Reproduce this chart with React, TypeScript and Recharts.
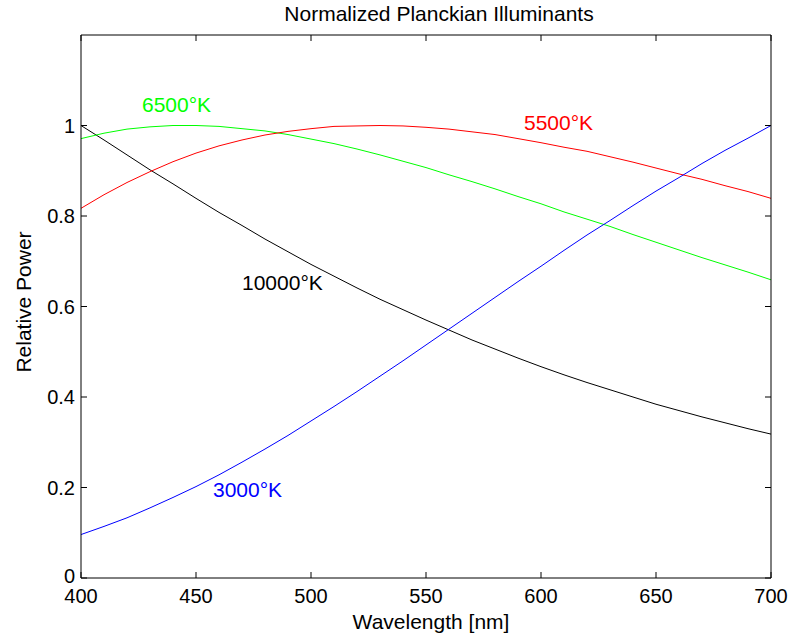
import React from 'react';
import { LineChart, Line, XAxis, YAxis } from 'recharts';

const wavelengths = [400, 410, 420, 430, 440, 450, 460, 470, 480, 490, 500, 510, 520, 530, 540, 550, 560, 570, 580, 590, 600, 610, 620, 630, 640, 650, 660, 670, 680, 690, 700];

const k10000 = [1.0, 0.968, 0.935, 0.902, 0.871, 0.839, 0.808, 0.779, 0.749, 0.721, 0.693, 0.667, 0.641, 0.616, 0.593, 0.570, 0.548, 0.526, 0.506, 0.486, 0.467, 0.449, 0.432, 0.416, 0.400, 0.384, 0.370, 0.356, 0.343, 0.330, 0.318];
const k6500 = [0.971, 0.983, 0.992, 0.997, 1.0, 1.0, 0.998, 0.993, 0.988, 0.980, 0.970, 0.960, 0.948, 0.935, 0.921, 0.907, 0.891, 0.876, 0.860, 0.843, 0.827, 0.809, 0.793, 0.777, 0.759, 0.742, 0.725, 0.708, 0.692, 0.676, 0.659];
const k5500 = [0.817, 0.847, 0.874, 0.898, 0.920, 0.939, 0.955, 0.968, 0.979, 0.987, 0.993, 0.998, 0.999, 1.0, 0.999, 0.996, 0.992, 0.986, 0.980, 0.971, 0.962, 0.952, 0.943, 0.931, 0.919, 0.906, 0.893, 0.881, 0.867, 0.854, 0.839];
const k3000 = [0.096, 0.114, 0.133, 0.155, 0.178, 0.202, 0.228, 0.256, 0.285, 0.315, 0.347, 0.379, 0.412, 0.446, 0.480, 0.515, 0.550, 0.585, 0.620, 0.655, 0.689, 0.724, 0.758, 0.790, 0.823, 0.855, 0.885, 0.916, 0.945, 0.972, 1.0];

const xTicks = [400, 450, 500, 550, 600, 650, 700];
const yTicks = [0, 0.2, 0.4, 0.6, 0.8, 1];

const titleText = 'Normalized Planckian Illuminants';
const xLabelText = 'Wavelength [nm]';
const yLabelText = 'Relative Power';

const data = wavelengths.map((wl, i) => ({
  wl,
  t10000: k10000[i],
  t6500: k6500[i],
  t5500: k5500[i],
  t3000: k3000[i],
}));

const FONT = '"Liberation Sans", Arial, Helvetica, sans-serif';
const FS = 20;
const LFS = 21;
const TICK = 6;

const BottomTick = (props: any) => {
  const { x, y, payload } = props;
  return (
    <g>
      <line x1={x} y1={y} x2={x} y2={y - TICK} stroke="#000" strokeWidth={1} />
      <text x={x} y={y + 18} textAnchor="middle" dominantBaseline="central" fontFamily={FONT} fontSize={FS} fill="#000">
        {payload.value}
      </text>
    </g>
  );
};

const TopTick = (props: any) => {
  const { x, y } = props;
  return <line x1={x} y1={y} x2={x} y2={y + TICK} stroke="#000" strokeWidth={1} />;
};

const LeftTick = (props: any) => {
  const { x, y, payload } = props;
  return (
    <g>
      <line x1={x} y1={y} x2={x + TICK} y2={y} stroke="#000" strokeWidth={1} />
      <text x={x - 6} y={payload.value === 0 ? y - 2 : y} textAnchor="end" dominantBaseline="central" fontFamily={FONT} fontSize={FS} fill="#000">
        {String(payload.value)}
      </text>
    </g>
  );
};

const RightTick = (props: any) => {
  const { x, y } = props;
  return <line x1={x} y1={y} x2={x - TICK} y2={y} stroke="#000" strokeWidth={1} />;
};

const seriesLabels = [
  { text: '6500°K', x: 142, y: 104, color: '#00ff00' },
  { text: '5500°K', x: 524, y: 122, color: '#ff0000' },
  { text: '10000°K', x: 242, y: 282, color: '#000000' },
  { text: '3000°K', x: 213, y: 489, color: '#0000ff' },
];

export default function App() {
  return (
    <div style={{ position: 'absolute', left: 0, top: 0, width: 794, height: 639, background: '#fff' }}>
      <LineChart
        width={794}
        height={639}
        data={data}
        margin={{ top: 25, right: 13, bottom: 21, left: 41 }}
      >
        <XAxis
          dataKey="wl"
          type="number"
          domain={[400, 700]}
          ticks={xTicks}
          height={40}
          tickSize={0}
          tickMargin={0}
          tickLine={false}
          axisLine={{ stroke: '#000', strokeWidth: 1 }}
          tick={<BottomTick />}
          interval={0}
        />
        <XAxis
          xAxisId="top"
          orientation="top"
          dataKey="wl"
          type="number"
          domain={[400, 700]}
          ticks={xTicks}
          height={10}
          tickSize={0}
          tickMargin={0}
          tickLine={false}
          axisLine={{ stroke: '#000', strokeWidth: 1 }}
          tick={<TopTick />}
          interval={0}
        />
        <YAxis
          type="number"
          domain={[0, 1.2]}
          ticks={yTicks}
          width={40}
          tickSize={0}
          tickMargin={0}
          tickLine={false}
          axisLine={{ stroke: '#000', strokeWidth: 1 }}
          tick={<LeftTick />}
          interval={0}
          allowDataOverflow
        />
        <YAxis
          yAxisId="right"
          orientation="right"
          type="number"
          domain={[0, 1.2]}
          ticks={yTicks}
          width={10}
          tickSize={0}
          tickMargin={0}
          tickLine={false}
          axisLine={{ stroke: '#000', strokeWidth: 1 }}
          tick={<RightTick />}
          interval={0}
          allowDataOverflow
        />
        <Line dataKey="t10000" type="linear" stroke="#000000" strokeWidth={1} dot={false} isAnimationActive={false} />
        <Line dataKey="t6500" type="linear" stroke="#00ff00" strokeWidth={1} dot={false} isAnimationActive={false} />
        <Line dataKey="t5500" type="linear" stroke="#ff0000" strokeWidth={1} dot={false} isAnimationActive={false} />
        <Line dataKey="t3000" type="linear" stroke="#0000ff" strokeWidth={1} dot={false} isAnimationActive={false} />
      </LineChart>
      <svg width={794} height={639} style={{ position: 'absolute', left: 0, top: 0, pointerEvents: 'none' }}>
        <text x={439} y={13} textAnchor="middle" dominantBaseline="central" fontFamily={FONT} fontSize={LFS} fill="#000">
          {titleText}
        </text>
        <text x={431} y={621} textAnchor="middle" dominantBaseline="central" fontFamily={FONT} fontSize={LFS} fill="#000">
          {xLabelText}
        </text>
        <text
          x={23}
          y={302}
          textAnchor="middle"
          dominantBaseline="central"
          fontFamily={FONT}
          fontSize={LFS}
          fill="#000"
          transform="rotate(-90 23 302)"
        >
          {yLabelText}
        </text>
        {seriesLabels.map((l) => (
          <text key={l.text} x={l.x} y={l.y} dominantBaseline="central" fontFamily={FONT} fontSize={LFS} fill={l.color}>
            {l.text}
          </text>
        ))}
      </svg>
    </div>
  );
}
